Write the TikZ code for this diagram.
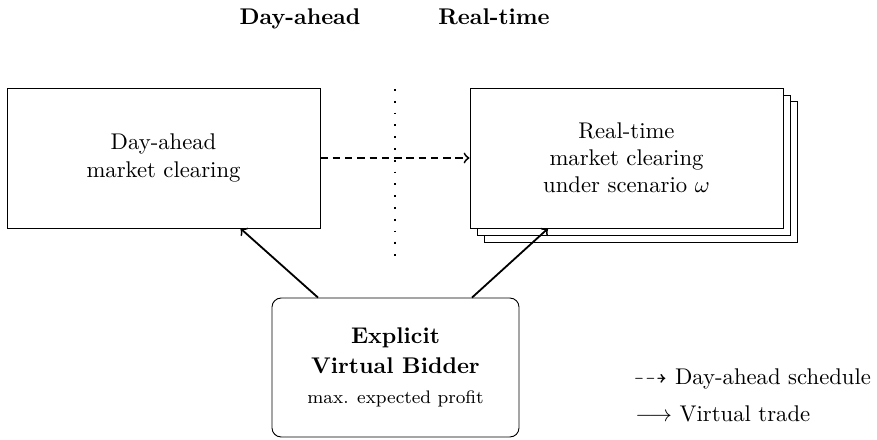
\documentclass[tikz,border=0pt]{standalone}
\usepackage{amssymb}
\usetikzlibrary{calc,shadows}

\begin{document}
\begin{tikzpicture}[x=0.4405pt,y=-0.4405pt,
  market/.style={draw, fill=white, thin, align=center, inner sep=0pt,
    minimum width=137.9pt, minimum height=61.7pt},
  bidder/.style={draw, fill=white, thin, rounded corners=4pt, align=center,
    inner sep=0pt, minimum width=108.8pt, minimum height=61.2pt},
  stack/.style={double copy shadow={shadow xshift=3.08pt, shadow yshift=-3.08pt}},
  header/.style={font=\bfseries, anchor=base, inner sep=0pt},
  legendtext/.style={anchor=base west, inner sep=0pt},
  trade/.style={->, thick},
  schedule/.style={->, thick, dash pattern=on 3.3pt off 2.1pt},
  divider/.style={line width=0.8pt, dash pattern=on 0.8pt off 4.4pt}]
\useasboundingbox (0,0) rectangle (877,439);

% column headings
\node[header] (hda) at (300,24) {Day-ahead};
\node[header] (hrt) at (494,24) {Real-time};

% separator between the two stages
\coordinate (sepTop) at (395,89);
\coordinate (sepBot) at (395,256);
\draw[divider] (sepTop) -- (sepBot);

% market clearing stages
\node[market] (da) at (163.5,158) {Day-ahead\\market clearing};
\node[market, stack] (rt) at (626.5,158) {Real-time\\market clearing\\under scenario $\omega$};

% virtual bidder
\node[bidder] (vb) at (395.5,367.5)
  {\textbf{Explicit}\\[1.2pt]\textbf{Virtual Bidder}\\[1.2pt]{\footnotesize max. expected profit}};

% connectors
\draw[schedule] (da.east) -- (rt.west);
\draw[trade] ($(vb.north)+(-77.5,0)$) -- ($(da.south)+(77,0)$);
\draw[trade] ($(vb.north)+(76.5,0)$) -- ($(rt.south)+(-78.5,0)$);

% legend
\node[legendtext] (lg1) at (633,384) {$\dashrightarrow$ Day-ahead schedule};
\node[legendtext] (lg2) at (635,421) {$\longrightarrow$ Virtual trade};
\end{tikzpicture}
\end{document}
